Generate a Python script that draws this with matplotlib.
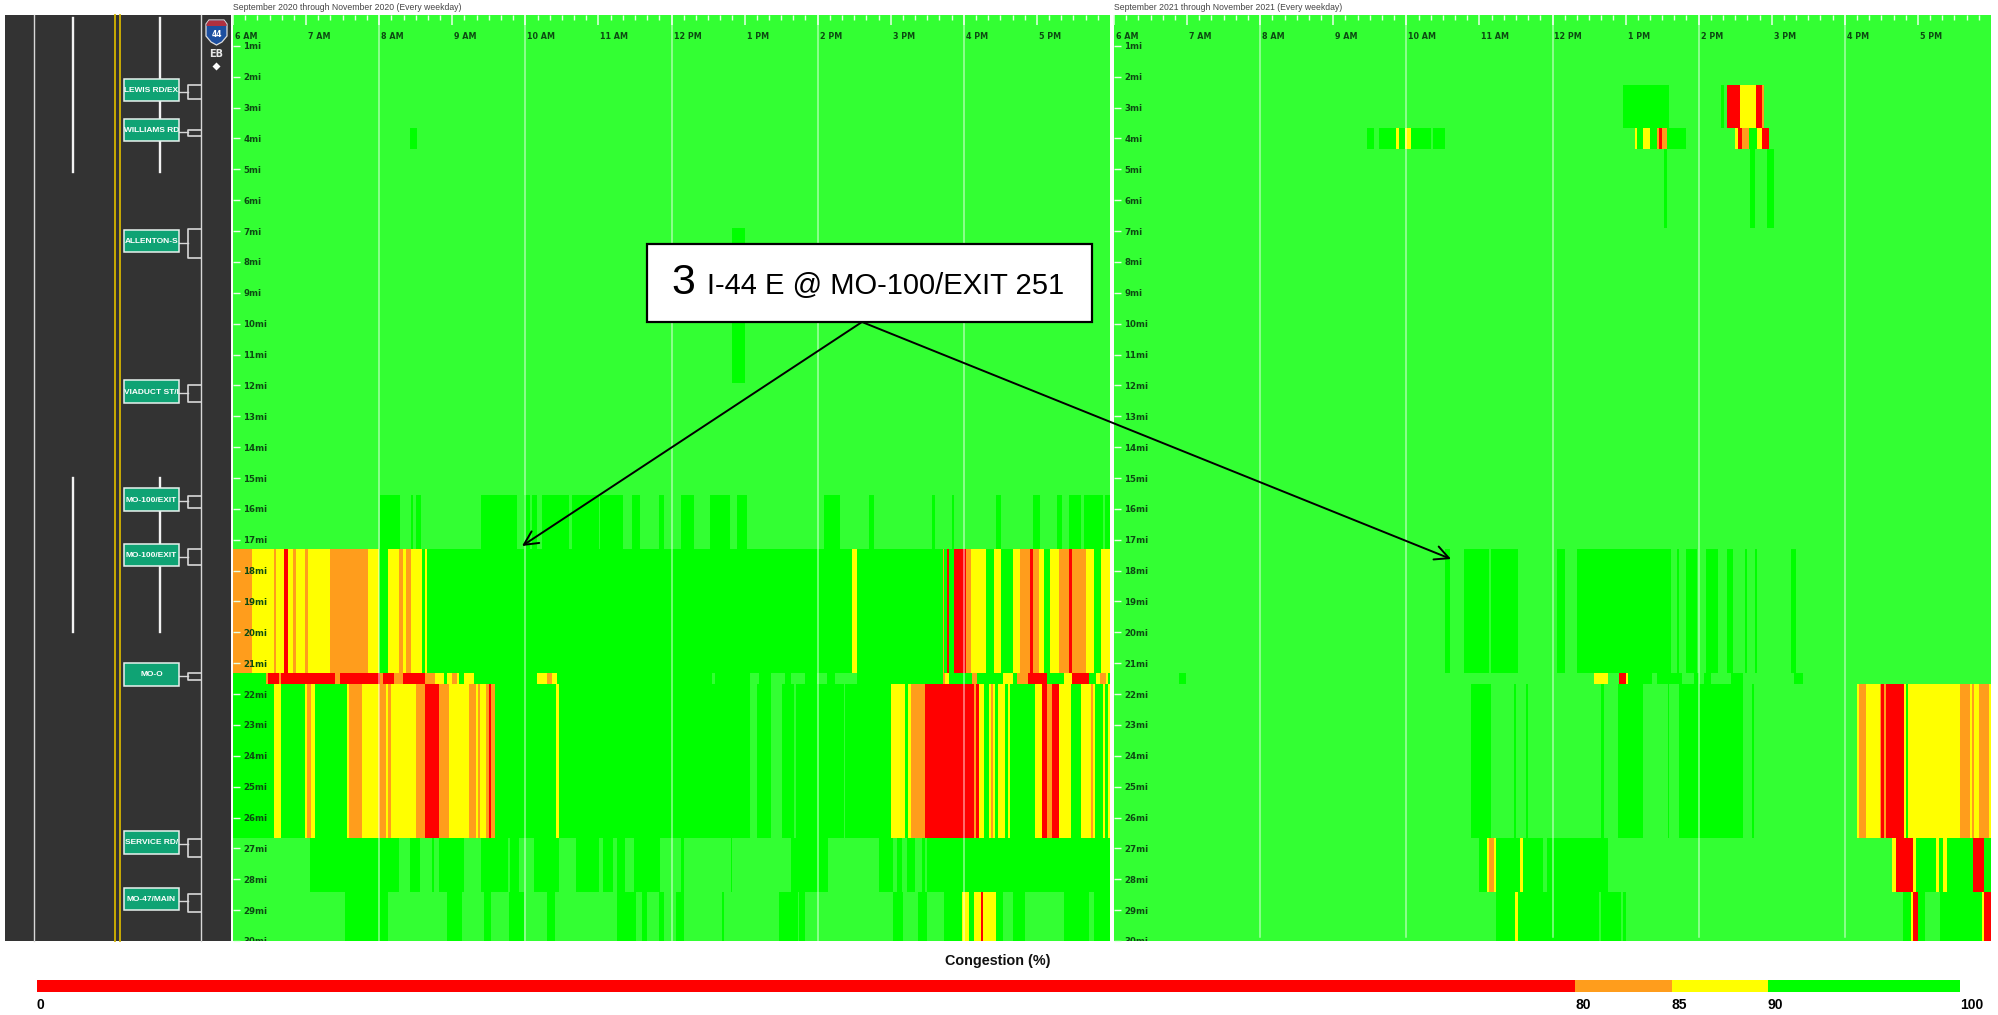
import numpy as np
import matplotlib
matplotlib.use("Agg")
import matplotlib.pyplot as plt
from matplotlib.colors import ListedColormap, BoundaryNorm
from matplotlib.patches import Rectangle, Polygon

R, O, Y, G, L = 0, 1, 2, 3, 4
LEVEL_COLORS = ['#ff0000', '#ff9d1c', '#ffff00', '#00ff00', '#33ff33']

TITLE_2020 = 'September 2020 through November 2020 (Every weekday)'
TITLE_2021 = 'September 2021 through November 2021 (Every weekday)'
HOUR_LABELS = ['6 AM', '7 AM', '8 AM', '9 AM', '10 AM', '11 AM', '12 PM', '1 PM', '2 PM', '3 PM', '4 PM', '5 PM']
MILE_LABELS = [f'{i}mi' for i in range(1, 31)]

# Road segments (miles): row edges of the heatmap
MILE_EDGES = [0, 2.27, 3.67, 4.34, 6.9, 11.93, 15.55, 17.3, 21.31, 21.69, 26.65, 28.42, 30]

# Runs are (start minute after 6 AM, end minute, level); rows not listed are all L
P20_R2 = [(145.5, 151, G)]
P20_R4 = [(410, 420, G)]
P20_R6 = [(120.8, 137.3, G), (145.8, 148.2, G), (149.9, 154, G), (203.6, 233.7, G), (238.6, 243.6, G),
          (245.5, 249.6, G), (253.7, 276.2, G), (277.8, 300.3, G), (301.7, 320.3, G), (327.7, 334, G),
          (350.2, 353.7, G), (368, 378.4, G), (392, 408, G), (413.4, 422.2, G), (485.2, 497.8, G),
          (522.2, 526.3, G), (574.2, 576.4, G), (590.7, 592, G), (626.3, 630.4, G), (656.4, 662.5, G),
          (676.4, 680.3, G), (686.6, 696.2, G), (698.4, 714.2, G), (716.2, 720, G)]
P20_R7 = [(0, 720, G), (0, 15.3, O), (15.3, 33.7, Y), (33.7, 35, O), (35, 41.4, Y), (41.4, 45.5, R),
          (45.5, 49.5, Y), (49.5, 51.5, O), (51.5, 59.5, Y), (59.5, 61.4, O), (61.4, 79.7, Y),
          (79.7, 111.2, O), (111.2, 120, Y), (127.7, 135.9, Y), (135.9, 139.5, O), (139.5, 142.2, Y),
          (142.2, 145.8, O), (145.8, 155.6, Y), (157.5, 159.7, Y), (508, 512, Y), (582.4, 584, O),
          (586, 588.2, R), (592, 602.2, R), (602.2, 606, O), (606, 618, Y), (624.4, 630.4, Y),
          (640.5, 646.3, Y), (646.3, 654, O), (654, 656.4, R), (656.4, 662.2, O), (662.2, 666, Y),
          (670.4, 678.6, Y), (678.6, 686.3, O), (686.3, 688.5, R), (688.5, 700.3, O), (700.3, 706.3, Y),
          (712.3, 720, Y)]
P20_R8 = [(0, 720, G), (27.7, 29, O), (29, 37.8, R), (37.8, 39.2, O), (39.2, 83.8, R), (83.8, 87.4, O),
          (87.4, 120.8, R), (120.8, 123.6, O), (123.6, 131.8, R), (131.8, 139.5, O), (139.5, 157.8, R),
          (157.8, 165.5, O), (165.5, 173.7, Y), (176.2, 179.8, Y), (179.8, 183.9, O), (183.9, 185.5, Y),
          (189.3, 197.5, Y), (249.6, 257.8, Y), (257.8, 261.9, O), (261.9, 266, Y), (393.7, 395.9, L),
          (424.4, 431.8, L), (442, 453.7, L), (458.3, 469.6, L), (479.7, 488, L), (494, 512, L),
          (582.4, 584.6, O), (584.6, 588, Y), (607.1, 610.7, O), (631.8, 640.2, Y), (644, 652.3, O),
          (652.3, 668.2, R), (682.5, 688.5, Y), (688.5, 703, R), (708.5, 712, Y), (712, 716.7, O),
          (716.7, 718, Y)]
P20_R9 = [(0, 720, G), (33.4, 39.4, Y), (59.7, 61.1, Y), (61.1, 64.1, O), (64.1, 67.4, Y), (94, 95.3, Y),
          (95.3, 105.5, O), (105.5, 120, Y), (120, 125.8, O), (125.8, 127.1, Y), (127.1, 129.3, O),
          (129.3, 149.9, Y), (149.9, 157.5, O), (157.5, 169.6, R), (169.6, 177.5, O), (177.5, 193.7, Y),
          (193.7, 199.5, O), (199.5, 201.6, Y), (201.6, 203, O), (203, 207.7, Y), (207.7, 209.9, O),
          (209.9, 212, R), (212, 215.6, O), (265.5, 267.7, Y), (424.4, 430.4, L), (441.9, 450.4, L),
          (460.5, 461.9, L), (501.6, 502.4, L), (540, 551.8, Y), (554.2, 556.4, Y), (556.4, 567.9, O),
          (567.9, 607.9, R), (607.9, 610.1, O), (610.1, 612.3, R), (612.3, 616.4, Y), (620.3, 622.2, Y),
          (622.2, 623.8, O), (623.8, 625.5, Y), (628.2, 634.2, Y), (635.9, 638.1, Y), (658.4, 664.1, Y),
          (664.1, 668.2, R), (668.2, 672, O), (672, 678.4, R), (678.4, 688.2, Y), (696.2, 704.4, Y),
          (704.4, 705.8, O), (705.8, 708, Y), (714.2, 715.9, Y), (718, 720, Y)]
P20_R10 = [(63.3, 135.9, G), (145.5, 153.7, G), (163.3, 165.2, G), (169.6, 189.9, G), (203.6, 225.5, G),
           (227.7, 234.5, G), (247.4, 268.2, G), (281.7, 300.3, G), (303.8, 312.1, G), (315.4, 322.2, G),
           (329.6, 350.4, G), (368, 370, G), (408.5, 410.1, G), (457.8, 488.5, G), (530.1, 542.2, G),
           (545.5, 549.6, G), (552.9, 559.7, G), (566, 568, G), (570.1, 720, G)]
P20_R11 = [(92.1, 127.7, G), (175.6, 188, G), (205.8, 211.8, G), (227.1, 239.2, G), (257.8, 263.9, G),
           (315.4, 330.4, G), (335.9, 340, G), (349.6, 353.7, G), (363.3, 370.2, G), (401.6, 403.5, G),
           (448.2, 463.3, G), (464.6, 470, G), (541.9, 550.1, G), (562.2, 570, G), (584.1, 598.3, G),
           (598.3, 603.8, Y), (603.8, 608, G), (608, 612.6, Y), (612.6, 613.9, Y), (613.9, 616.2, R),
           (616.2, 626.3, Y), (626.3, 631.8, G), (640.3, 650.1, G), (682.5, 703, G), (707.1, 709.9, G),
           (710.7, 720, G)]

P21_R1 = [(418.2, 455.7, G), (498.2, 500.4, G), (503.6, 514, R), (514, 527.2, Y), (527.2, 532.1, R),
          (532.1, 533.8, O)]
P21_R2 = [(207.7, 213.7, G), (217.6, 231.3, G), (231.3, 233.8, Y), (233.8, 239.2, G), (239.2, 243.6, Y),
          (243.6, 259.8, G), (261.4, 271.8, G), (427.7, 429.7, Y), (429.7, 433.8, G), (433.8, 439.8, Y),
          (439.8, 446, G), (446, 447.5, O), (447.5, 450.2, R), (450.2, 453.8, O), (453.8, 470, G),
          (510, 511.9, Y), (511.9, 515.7, R), (515.7, 521.7, O), (521.7, 527.8, G), (527.8, 531.9, Y),
          (531.9, 537.9, R)]
P21_R3 = [(451.6, 453.8, G), (522.3, 526.1, G), (536.5, 542, G)]
P21_R7 = [(271.5, 276.2, G), (287.2, 307.7, G), (309.6, 331.8, G), (363.9, 370.2, G), (379.8, 457.6, G),
          (462, 463.9, G), (469.4, 478.4, G), (485.8, 495.9, G), (503.6, 508.3, G), (517.9, 520, G),
          (526.1, 527.7, G), (556.2, 559.8, G)]
P21_R8 = [(53.2, 59.7, G), (394, 405.5, Y), (414.6, 420, R), (420, 422, Y), (422, 442, G), (445.5, 465.8, G),
          (476.2, 480.3, G), (484.4, 489.9, G), (506.4, 516, G), (558.4, 566.1, G)]
P21_R9 = [(293.7, 309.6, G), (328.3, 329.9, G), (337.9, 339.5, G), (400, 402.2, G), (413.7, 433.8, G),
          (454.3, 456.2, G), (463.9, 516, G), (523.6, 525.5, G), (610, 612, Y), (612, 617.6, O), (617.6, 629.1, Y),
          (629.1, 630, O), (630, 632.4, R), (632.4, 634, O), (634, 648.3, R), (648.3, 650, Y), (650, 652.1, G),
          (652.1, 694.3, Y), (694.3, 702.3, O), (702.3, 704.5, Y), (704.5, 705.8, O), (705.8, 710.5, Y),
          (710.5, 718.2, O), (718.2, 720, Y)]
P21_R10 = [(299.5, 305.8, G), (305.8, 307.7, Y), (307.7, 311.8, O), (311.8, 313.7, Y), (313.7, 333.7, G),
           (333.7, 335.7, Y), (335.7, 352.1, G), (355.7, 405.5, G), (638.4, 642, Y), (642, 656.2, R),
           (656.2, 658.7, Y), (658.7, 674.3, G), (674.3, 676.8, Y), (676.8, 680.3, G), (680.3, 683.9, Y),
           (683.9, 705.3, G), (705.3, 714.6, R), (714.6, 720, G)]
P21_R11 = [(313.7, 329.6, G), (329.6, 331.8, Y), (331.8, 398.7, G), (399.5, 416.5, G), (417.6, 420, G),
           (648, 654.3, G), (654.3, 656.2, Y), (656.2, 660, R), (660, 665.8, G), (677.9, 713.2, G),
           (713.2, 714.6, Y), (714.6, 720, R)]

ROWS_2020 = {2: P20_R2, 4: P20_R4, 6: P20_R6, 7: P20_R7, 8: P20_R8, 9: P20_R9, 10: P20_R10, 11: P20_R11}
ROWS_2021 = {1: P21_R1, 2: P21_R2, 3: P21_R3, 7: P21_R7, 8: P21_R8, 9: P21_R9, 10: P21_R10, 11: P21_R11}

# Colour scale
SCALE_BOUNDS = [0, 80, 85, 90, 100]
SCALE_COLORS = ['#ff0000', '#ff9d1c', '#ffff00', '#00ff00']
SCALE_LABELS = ['0', '80', '85', '90', '100']

# Exit signs: label, sign top, sign bottom, ramp top, ramp bottom (figure px)
SIGNS = [('LEWIS RD/EX', 79, 101, 85, 99), ('WILLIAMS RD', 119, 141, 129.5, 136),
         ('ALLENTON-S', 230, 252, 229, 258), ('VIADUCT ST/I', 380, 403, 385, 402),
         ('MO-100/EXIT', 488, 511, 496, 508), ('MO-100/EXIT', 544, 566, 549, 565),
         ('MO-O', 663, 686, 673, 680), ('SERVICE RD/', 831, 854, 839, 857),
         ('MO-47/MAIN', 888, 910, 894, 912)]

W, H = 1999, 1015
SANS = 'Liberation Sans'
fig = plt.figure(figsize=(W / 100, H / 100), dpi=100, facecolor='white')


def px_axes(x0, y0, x1, y1, **kw):
    return fig.add_axes([x0 / W, 1 - y1 / H, (x1 - x0) / W, (y1 - y0) / H], **kw)


def build_matrix(rows):
    xedges = np.arange(0, 720.5, 0.5)
    z = np.full((len(MILE_EDGES) - 1, len(xedges) - 1), L, dtype=int)
    for r, runs in rows.items():
        for s, e, lvl in runs:
            z[r, int(round(s * 2)):int(round(e * 2))] = lvl
    return xedges, z


cmap = ListedColormap(LEVEL_COLORS)
norm = BoundaryNorm(np.arange(-0.5, 5.5), 5)


def panel(x0, x1, rows, title, grid_bottom):
    ax = px_axes(x0, 15, x1, 941)
    xe, z = build_matrix(rows)
    ax.pcolormesh(xe, MILE_EDGES, z, cmap=cmap, norm=norm, antialiased=False, rasterized=True)
    ax.set_xlim(0, 720)
    ax.set_ylim(30, 0)
    for s in ax.spines.values():
        s.set_visible(False)
    for m in range(120, 720, 120):
        ax.axvline(m, ymin=grid_bottom, ymax=1, color='white', alpha=0.55, lw=1.1)
    ax.xaxis.tick_top()
    ax.set_xticks(np.arange(0, 720, 60))
    ax.set_xticklabels([])
    ax.set_xticks(np.arange(0, 720, 10), minor=True)
    ax.tick_params(axis='x', which='major', direction='in', length=7.5, width=1.1, color='#e6ffe6')
    ax.tick_params(axis='x', which='minor', direction='in', length=3.5, width=1.0, color='#e6ffe6')
    ax.set_yticks(np.arange(1, 31))
    ax.set_yticklabels(MILE_LABELS, ha='left', fontsize=6.2, fontweight='bold', color='#0c4a12',
                       family='DejaVu Sans')
    ax.tick_params(axis='y', which='major', direction='in', length=5, width=1, color='#e6ffe6', pad=-7.3)
    for lab in ax.get_yticklabels():
        lab.set_clip_on(True)
        lab.set_clip_box(ax.bbox)
    for i, lab in enumerate(HOUR_LABELS):
        ax.annotate(lab, xy=(i * 60, 0), xytext=(2, -21), textcoords='offset pixels', ha='left', va='center',
                    fontsize=5.8, fontweight='bold', color='#0c4a12', family='DejaVu Sans',
                    annotation_clip=False)
    fig.text(x0 / W, 1 - 7 / H, title, ha='left', va='center', fontsize=6.2, color='#444444', family=SANS)
    return ax


ax1 = panel(233, 1110, ROWS_2020, TITLE_2020, 0.0)
ax2 = panel(1114, 1991, ROWS_2021, TITLE_2021, 0.004)

# Road diagram and annotations in figure pixels
ov = fig.add_axes([0, 0, 1, 1], facecolor='none')
ov.set_xlim(0, W)
ov.set_ylim(H, 0)
ov.axis('off')
ov.add_patch(Rectangle((5.5, 15), 226, 926, fc='#333333', ec='none'))
for x in (34, 201):
    ov.plot([x, x], [15, 941], color='#d8d8d8', lw=1.0)
for x in (115, 120):
    ov.plot([x, x], [15, 941], color='#d4b400', lw=1.3)
for x in (73, 160):
    for a, b in ((18, 172), (478, 632)):
        ov.plot([x, x], [a, b], color='#f2f2f2', lw=1.7)
for name, top, bot, rt, rb in SIGNS:
    mid = (top + bot) / 2
    ymid = mid + 1.5
    ov.plot([179, 188], [ymid, ymid], color='#d8d8d8', lw=1.0)
    ov.plot([201, 188, 188, 201], [rt, rt, rb, rb], color='#d8d8d8', lw=1.2)
    ov.add_patch(Rectangle((124, top), 55, bot - top, fc='#0fa374', ec='#e8f2ee', lw=1.1, zorder=3))
    ov.text(151.5, mid + 0.5, name, color='white', ha='center', va='center', fontsize=6.0, fontweight='bold',
            family=SANS, zorder=4)

# Interstate shield
ov.add_patch(Polygon([(206, 24), (209, 20), (224, 20), (227, 24), (227, 36), (222, 42), (216.5, 45), (211, 42), (206, 36)],
                     closed=True, fc='#1d4fa0', ec='#dddddd', lw=0.9, zorder=3))
ov.add_patch(Polygon([(206.5, 24), (209, 20.5), (224, 20.5), (226.5, 24), (226.5, 26), (206.5, 26)],
                     closed=True, fc='#b03040', ec='none', zorder=4))
ov.text(216.5, 34, '44', color='white', ha='center', va='center', fontsize=5.5, fontweight='bold',
        family='DejaVu Sans', zorder=5)
ov.text(216.5, 54, 'EB', color='#e8e8e8', ha='center', va='center', fontsize=7, fontweight='bold',
        family='DejaVu Sans')
ov.plot([216.5], [66], marker='D', ms=4, color='white', mec='none')

# Callout
ov.add_patch(Rectangle((647, 244), 445, 78, fc='white', ec='black', lw=1.6, zorder=6))
ov.text(671, 294, '3', fontsize=31, color='black', ha='left', va='baseline', family=SANS, zorder=7)
ov.text(707, 294, 'I-44 E @ MO-100/EXIT 251', fontsize=21, color='black', ha='left', va='baseline',
        family=SANS, zorder=7)
for tip in ((522, 546), (1451, 559)):
    ov.annotate('', xy=tip, xytext=(862, 322), zorder=5,
                arrowprops=dict(arrowstyle='->,head_length=1.0,head_width=0.5', color='black', lw=1.4,
                                shrinkA=0, shrinkB=0))

# Colour scale bar
cax = px_axes(37, 980, 1960, 992)
for i in range(len(SCALE_COLORS)):
    cax.barh(0, SCALE_BOUNDS[i + 1] - SCALE_BOUNDS[i], left=SCALE_BOUNDS[i], height=1, color=SCALE_COLORS[i])
cax.set_xlim(0, 100)
cax.set_ylim(-0.5, 0.5)
cax.axis('off')
for v, lab in zip(SCALE_BOUNDS, SCALE_LABELS):
    fig.text((37 + v * 19.23) / W, 1 - 1005 / H, lab, ha='left', va='center', fontsize=10, fontweight='bold',
             color='black', family=SANS)
fig.text(998 / W, 1 - 961 / H, 'Congestion (%)', ha='center', va='center', fontsize=10.4, fontweight='bold',
         color='#111111', family=SANS)

fig.savefig('out.png', dpi=100)
